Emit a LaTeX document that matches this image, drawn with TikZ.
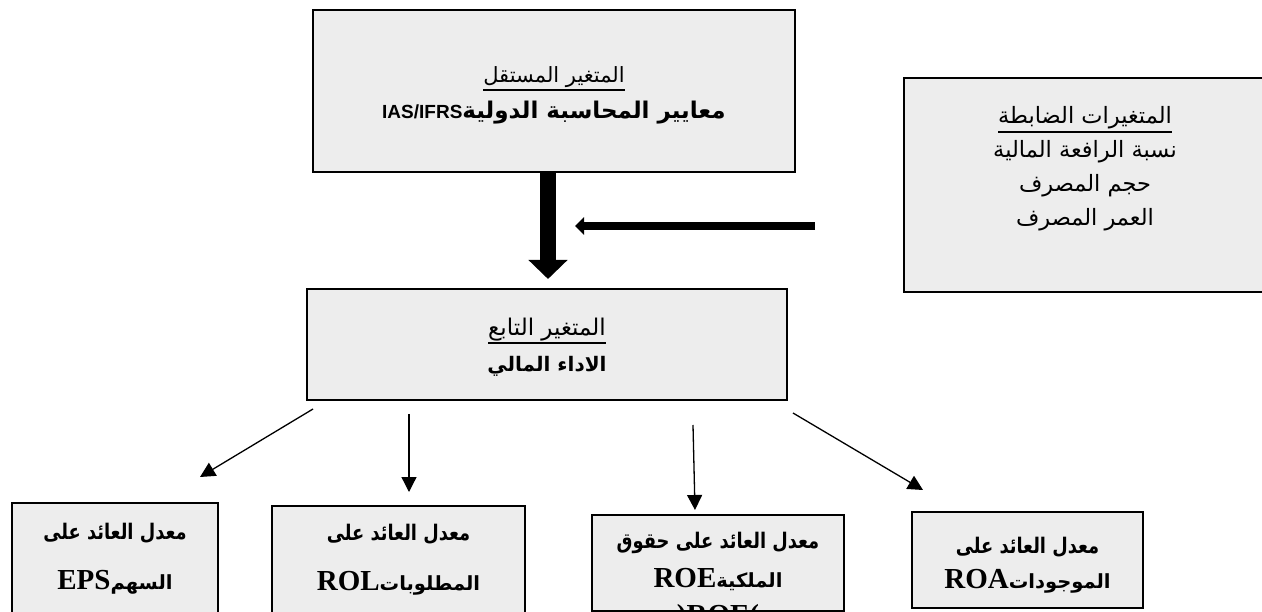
\documentclass[tikz,border=0pt]{standalone}
\usepackage{fontspec}
\usetikzlibrary{arrows.meta}
\TeXXeTstate=1
\newfontfamily\arabicfont[Script=Arabic]{DejaVu Sans}
\newfontfamily\arabicnarrow[Script=Arabic,FakeStretch=0.83]{DejaVu Sans}
\newfontfamily\arialf{Liberation Sans}
\newfontfamily\timesf{Liberation Serif}
\newcommand\myul[1]{\vtop{\hbox{#1}\kern1.5pt\hrule height 2pt}}
\newcommand\fsz[2]{\fontsize{#1}{#2}\selectfont}
\newcommand\ar[1]{\beginR #1\endR}
\newcommand\latar[2]{\hbox{\timesf\bfseries\fsz{29}{36}#1}\hbox{\arabicfont\bfseries\fsz{19.5}{36}#2}}
\definecolor{boxfill}{RGB}{237,237,237}
\tikzset{
  box/.style={draw=black, line width=2.4pt, fill=boxfill, inner sep=0pt},
  txt/.style={align=center, inner sep=0pt, font=\arabicfont\fsz{21}{36}},
  line1/.style={inner sep=0pt, anchor=base, font=\arabicnarrow\bfseries\fsz{21.5}{36}},
  line2/.style={inner sep=0pt, anchor=base},
  thin/.style={line width=1.3pt, -{Triangle[length=15pt,width=15pt]}},
}
\begin{document}
\begin{tikzpicture}[x=1pt,y=-1pt]
\useasboundingbox (0,0) rectangle (1262,612);
% boxes
\node[box, minimum width=482pt, minimum height=162pt] (ind) at (554,91) {};
\node[box, minimum width=480pt, minimum height=111pt] (dep) at (547,344.5) {};
\node[box, minimum width=396pt, minimum height=214pt] (ctl) at (1102,185) {};
\node[box, minimum width=206pt, minimum height=147pt] (eps) at (115,576.5) {};
\node[box, minimum width=253pt, minimum height=144pt] (rol) at (398.5,578) {};
\node[box, minimum width=252pt, minimum height=96pt] (roe) at (718,563) {};
\node[box, minimum width=231pt, minimum height=96pt] (roa) at (1027.5,560) {};
% texts of the upper boxes
\node[txt] (indt) at (554,95) {\myul{\ar{المتغير المستقل}}\\ {\bfseries\fsz{23}{36}\beginR معايير المحاسبة الدولية\beginL{\arialf\fsz{19}{36}IAS/IFRS}\endL\endR}};
\node[txt] (dept) at (547,347) {\myul{\fsz{23}{32}\ar{المتغير التابع}}\\ {\bfseries\fsz{20}{32}\ar{الاداء المالي}}};
\node[txt, font=\arabicfont\fsz{22.5}{34}] (ctlt) at (1085,169) {\myul{\ar{المتغيرات الضابطة}}\\ \ar{نسبة الرافعة المالية}\\ \ar{حجم المصرف}\\ \ar{العمر المصرف}};
% texts of the lower boxes
\node[line1] (eps1) at (115,539) {\ar{معدل العائد على}};
\node[line2] (eps2) at (115,589) {\latar{EPS}{السهم}};
\node[line1] (rol1) at (398.5,540) {\ar{معدل العائد على}};
\node[line2] (rol2) at (398.5,590) {\latar{ROL}{المطلوبات}};
\begin{scope}
\clip (roe.south west) rectangle (roe.north east);
\node[line1] (roe1) at (718,548) {\ar{معدل العائد على حقوق}};
\node[line2] (roe2) at (718,587) {\latar{ROE}{الملكية}};
\node[line2] (roe3) at (718,624) {\timesf\bfseries\fsz{29}{36})ROE(};
\end{scope}
\node[line1] (roa1) at (1027.5,553) {\ar{معدل العائد على}};
\node[line2] (roa2) at (1027.5,588) {\latar{ROA}{الموجودات}};
% arrows
\coordinate (thickS) at (548,172);
\coordinate (thickE) at (548,279);
\draw[line width=16pt, -{Triangle[length=19pt,width=38pt]}] (thickS) -- (thickE);
\coordinate (hS) at (815,226);
\coordinate (hE) at (575,226);
\draw[line width=7.5pt, -{Triangle[length=9pt,width=17pt]}] (hS) -- (hE);
\coordinate (a1s) at (313,409); \coordinate (a1e) at (200,477);
\coordinate (a2s) at (409,414); \coordinate (a2e) at (409,492);
\coordinate (a3s) at (693,425); \coordinate (a3e) at (695,510);
\coordinate (a4s) at (793,413); \coordinate (a4e) at (923,490);
\draw[thin] (a1s) -- (a1e);
\draw[thin] (a2s) -- (a2e);
\draw[thin] (a3s) -- (a3e);
\draw[thin] (a4s) -- (a4e);
\end{tikzpicture}
\end{document}
